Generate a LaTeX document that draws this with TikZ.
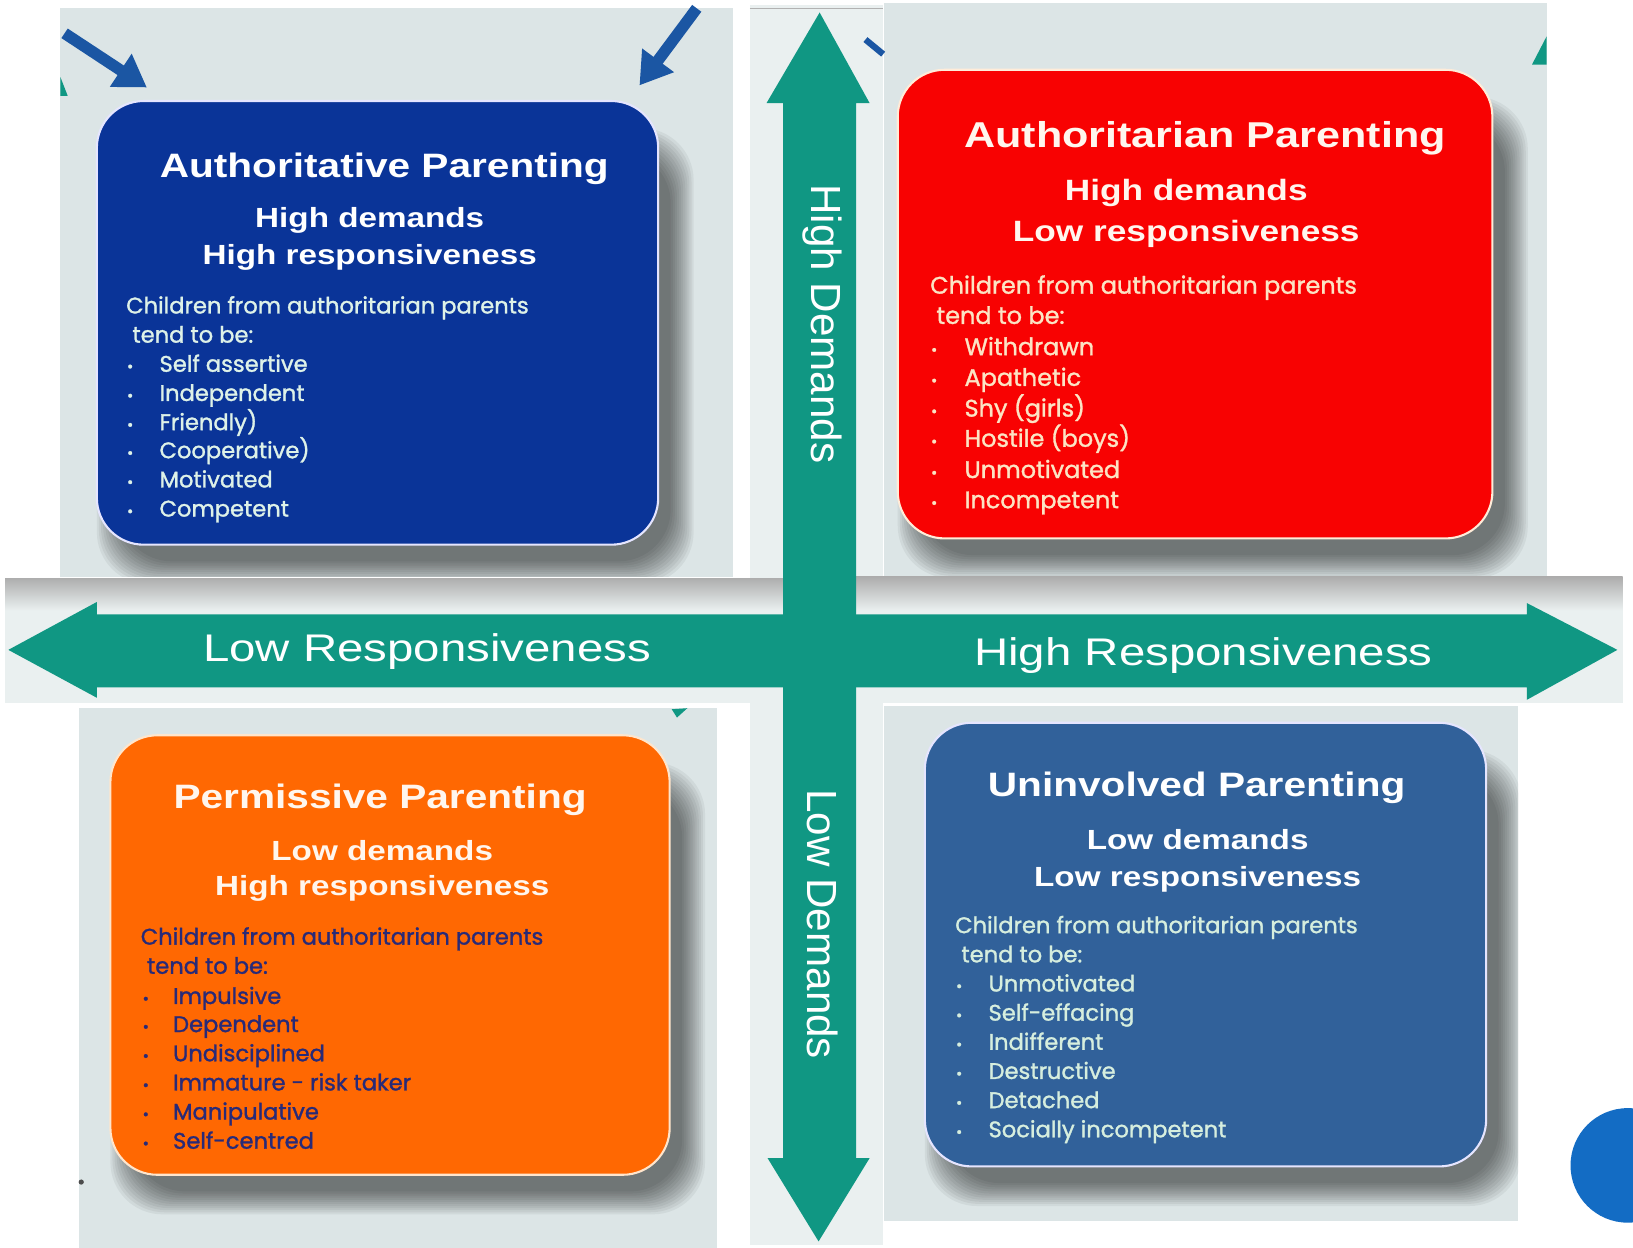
\documentclass[tikz,border=0pt]{standalone}
\usepackage{fontspec}
\setmainfont{Liberation Sans}
\newfontfamily\gothic{Poppins}[FakeBold=1.3]
\usetikzlibrary{arrows.meta}

\definecolor{axisgreen}{RGB}{16,151,131}
\definecolor{panelbg}{RGB}{220,229,230}
\definecolor{stripbg}{RGB}{234,240,240}
\definecolor{tlblue}{RGB}{10,52,152}
\definecolor{trred}{RGB}{248,2,2}
\definecolor{blorange}{RGB}{255,104,2}
\definecolor{brblue}{RGB}{49,97,154}
\definecolor{tllist}{RGB}{222,242,232}
\definecolor{trlist}{RGB}{252,228,196}
\definecolor{bllist}{RGB}{40,42,120}
\definecolor{brlist}{RGB}{214,238,222}
\definecolor{trtitle}{RGB}{255,246,238}
\definecolor{arrowblue}{RGB}{27,86,163}
\definecolor{dotblue}{RGB}{19,108,196}

\newcommand\wide[2]{\scalebox{#1}[1]{#2}}
% soft shadow falling below and to the right of a rounded card
\newcommand\cardshadow[4]{%
  \foreach \k in {1,...,12}{%
    \fill[black,opacity=0.05,rounded corners=50pt]
      ({#1+24-2*\k},{#2+50-2*\k}) rectangle ({#3+10+2*\k},{#4+14+2*\k});}}

\tikzset{
  card/.style={rectangle, rounded corners=45pt, line width=2pt, inner sep=0pt},
  ttl/.style={anchor=base, inner sep=0pt, font=\bfseries\fontsize{32.5}{36}\selectfont},
  sub/.style={anchor=base, inner sep=0pt, font=\bfseries\fontsize{26.6}{30}\selectfont},
  lst/.style={anchor=base west, inner sep=0pt, font=\gothic\fontsize{21.7}{24}\selectfont},
  lstbig/.style={anchor=base west, inner sep=0pt, font=\gothic\fontsize{23}{26}\selectfont},
  blt/.style={anchor=base, inner sep=0pt, font=\gothic\fontsize{15}{22}\selectfont},
  axl/.style={inner sep=0pt, text=white, font=\fontsize{37}{40}\selectfont},
  axv/.style={inner sep=0pt, text=white, font=\fontsize{40.5}{44}\selectfont, rotate=-90},
}

\begin{document}
\begin{tikzpicture}[x=1pt,y=-1pt]
\useasboundingbox (0,0) rectangle (1568,1198);
\fill[white] (0,0) rectangle (1568,1198);

% ---------- backgrounds ----------
\fill[panelbg] (58,8) rectangle (704,554);
\fill[panelbg] (849,3) rectangle (1485,553);
\fill[panelbg] (76,680) rectangle (688,1198);
\fill[panelbg] (849,678) rectangle (1458,1172);
\fill[stripbg] (720,5) rectangle (848,1195);
\draw[gray!60,line width=1pt] (720,8) -- (848,8);
\fill[stripbg] (5,555) rectangle (752,675);
\fill[stripbg] (822,554) rectangle (1558,675);
\shade[top color=black!32, bottom color=stripbg] (5,555) rectangle (752,586);
\shade[top color=black!32, bottom color=stripbg] (822,554) rectangle (1558,586);

% ---------- shadows ----------
\begin{scope}
  \clip (58,8) rectangle (704,554);
  \cardshadow{93}{97}{632}{523}
\end{scope}
\begin{scope}
  \clip (849,3) rectangle (1485,553);
  \cardshadow{862}{67}{1433}{517}
\end{scope}
\begin{scope}
  \clip (76,680) rectangle (688,1198);
  \cardshadow{106}{706}{643}{1128}
\end{scope}
\begin{scope}
  \clip (849,678) rectangle (1458,1172);
  \cardshadow{888}{694}{1427}{1120}
\end{scope}

% ---------- small decorative marks ----------
\coordinate (a1s) at (62,32);   \coordinate (a1e) at (141,84);
\coordinate (a2s) at (669,8);   \coordinate (a2e) at (614,82);
\draw[arrowblue, line width=11pt, -{Triangle[length=30pt,width=36pt]}] (a1s) -- (a1e);
\draw[arrowblue, line width=11pt, -{Triangle[length=30pt,width=36pt]}] (a2s) -- (a2e);
\draw[arrowblue, line width=6pt] (831,38) -- (848,52);
\fill[axisgreen] (58,74) -- (65,92) -- (58,92) -- cycle;
\fill[axisgreen] (1471,62) -- (1485,35) -- (1485,62) -- cycle;
\fill[axisgreen] (645,681) -- (660,680) -- (650,689) -- cycle;
\fill[black!70] (78,1135) circle[radius=2.5pt];

% ---------- cards ----------
\node[card, fill=tlblue, draw=blue!10, minimum width=539pt, minimum height=426pt] (authoritative) at (362.5,310) {};
\node[card, fill=trred, draw=orange!15, minimum width=571pt, minimum height=450pt] (authoritarian) at (1147.5,292) {};
\node[card, fill=blorange, draw=orange!20, minimum width=537pt, minimum height=422pt] (permissive) at (374.5,917) {};
\node[card, fill=brblue, draw=blue!10, minimum width=539pt, minimum height=426pt] (uninvolved) at (1157.5,907) {};

% ---------- axes ----------
\fill[axisgreen] (8,624) -- (93,578) -- (93,590) -- (1466,590) -- (1466,579)
  -- (1553,624) -- (1466,672) -- (1466,660) -- (93,660) -- (93,670) -- cycle;
\fill[axisgreen] (787,12) -- (835,99) -- (822,99) -- (822,1112) -- (835,1112)
  -- (786,1192) -- (737,1112) -- (752,1112) -- (752,99) -- (736,99) -- cycle;
\node[axl, anchor=base] (lowresp) at (410,635.5) {\wide{1.23}{Low Responsiveness}};
\node[axl, anchor=base] (highresp) at (1155.5,638.6) {\wide{1.23}{High Responsiveness}};
\node[axv] (highdem) at (790,311) {High Demands};
\node[axv] (lowdem) at (790,887.5) {Low Demands};

% ---------- authoritative ----------
\node[ttl, text=white] (t1) at (369,170) {\wide{1.2}{Authoritative Parenting}};
\node[sub, text=white] (t1a) at (355,218) {\wide{1.2}{High demands}};
\node[sub, text=white] (t1b) at (355,254) {\wide{1.2}{High responsiveness}};
\node[lst, text=tllist] (t1c) at (121,301) {Children from authoritarian parents};
\node[lst, text=tllist] (t1d) at (127,329) {tend to be:};
\foreach \t/\y in {Self assertive/357, Independent/385, Friendly)/413,
                   Cooperative)/440, Motivated/468, Competent/496}{
  \node[blt, text=tllist] (t1b\y) at (125,\y) {\textbullet};
  \node[lst, text=tllist] (t1i\y) at (153,\y) {\t};
}

% ---------- authoritarian ----------
\node[ttl, text=trtitle, font=\bfseries\fontsize{34.5}{38}\selectfont] (t2) at (1157,141.5) {\wide{1.2}{Authoritarian Parenting}};
\node[sub, text=trtitle, font=\bfseries\fontsize{28.2}{32}\selectfont] (t2a) at (1139,193) {\wide{1.2}{High demands}};
\node[sub, text=trtitle, font=\bfseries\fontsize{28.2}{32}\selectfont] (t2b) at (1139,232) {\wide{1.2}{Low responsiveness}};
\node[lstbig, text=trlist] (t2c) at (893,282) {Children from authoritarian parents};
\node[lstbig, text=trlist] (t2d) at (899,311) {tend to be:};
\foreach \t/\y in {Withdrawn/341, Apathetic/370.5, Shy (girls)/400,
                   Hostile (boys)/429, Unmotivated/459, Incompetent/488}{
  \node[blt, text=trlist] (t2b\y) at (897,\y) {\textbullet};
  \node[lstbig, text=trlist] (t2i\y) at (926,\y) {\t};
}

% ---------- permissive ----------
\node[ttl, text=trtitle] (t3) at (365,776) {\wide{1.2}{Permissive Parenting}};
\node[sub, text=trtitle] (t3a) at (367,826) {\wide{1.2}{Low demands}};
\node[sub, text=trtitle] (t3b) at (367,860) {\wide{1.2}{High responsiveness}};
\node[lst, text=bllist] (t3c) at (135,907) {Children from authoritarian parents};
\node[lst, text=bllist] (t3d) at (141,935) {tend to be:};
\foreach \t/\y in {Impulsive/964, Dependent/991, Undisciplined/1019,
                   Immature - risk taker/1047, Manipulative/1075, Self-centred/1103}{
  \node[blt, text=bllist] (t3b\y) at (140,\y) {\textbullet};
  \node[lst, text=bllist] (t3i\y) at (166,\y) {\t};
}

% ---------- uninvolved ----------
\node[ttl, text=white] (t4) at (1149,765) {\wide{1.2}{Uninvolved Parenting}};
\node[sub, text=white] (t4a) at (1150,816) {\wide{1.2}{Low demands}};
\node[sub, text=white] (t4b) at (1150,851.5) {\wide{1.2}{Low responsiveness}};
\node[lst, text=brlist] (t4c) at (917,896) {Children from authoritarian parents};
\node[lst, text=brlist] (t4d) at (923,924) {tend to be:};
\foreach \t/\y in {Unmotivated/952, Self-effacing/980, Indifferent/1008,
                   Destructive/1036, Detached/1064, Socially incompetent/1092}{
  \node[blt, text=brlist] (t4b\y) at (921,\y) {\textbullet};
  \node[lst, text=brlist] (t4i\y) at (949,\y) {\t};
}

% ---------- corner dot ----------
\begin{scope}
  \clip (0,0) rectangle (1568,1198);
  \fill[dotblue] (1563,1119) circle[radius=55pt];
\end{scope}
\end{tikzpicture}
\end{document}
